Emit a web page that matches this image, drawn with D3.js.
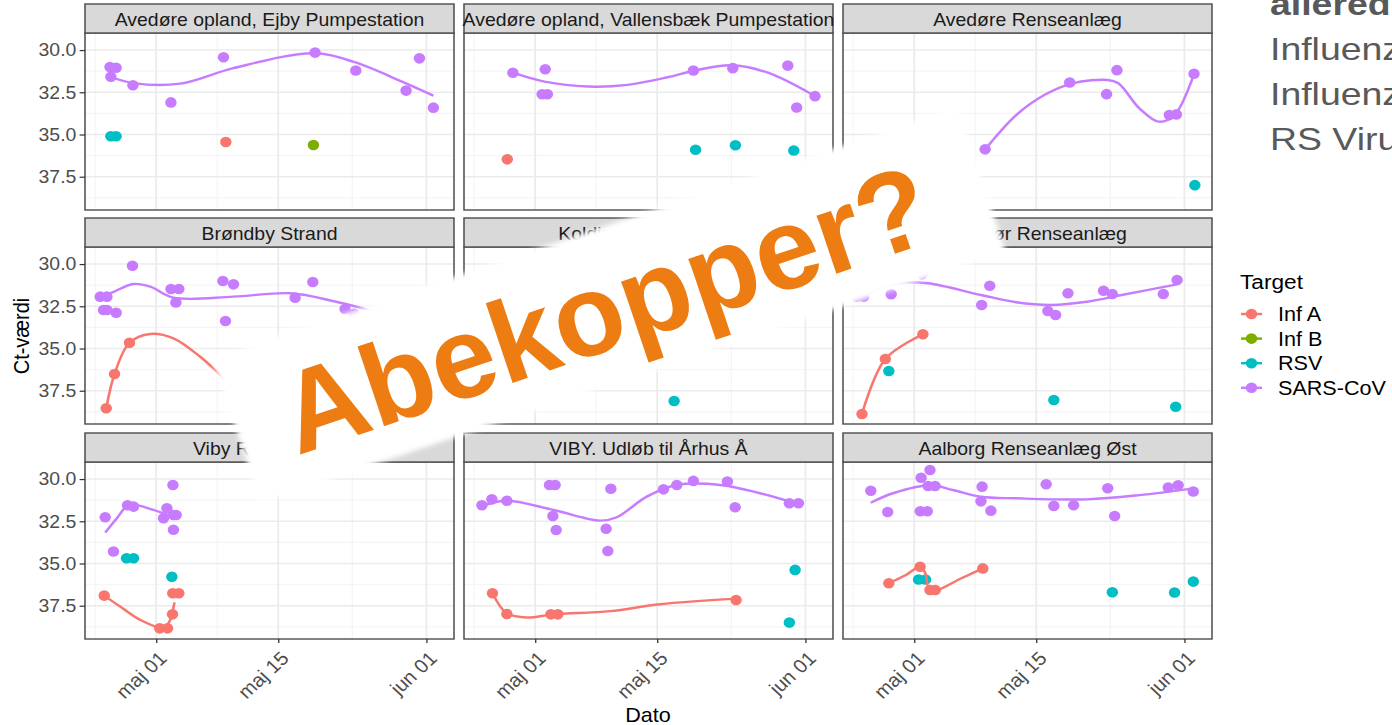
<!DOCTYPE html>
<html>
<head>
<meta charset="utf-8">
<script src="https://cdn.jsdelivr.net/npm/d3@7"></script>
<style>
  body { margin: 0; background: #fff; }
  svg { display: block; font-family: "Liberation Sans", Arial, sans-serif; }
</style>
</head>
<body>
<svg id="chart" width="1392" height="725"></svg>
<script>
// ---- data ----
const targets = ["Inf A", "Inf B", "RSV", "SARS-CoV"];
const targetColors = ["#F8766D", "#7CAE00", "#00BFC4", "#C77CFF"];

const facets = [
  "Avedøre opland, Ejby Pumpestation",
  "Avedøre opland, Vallensbæk Pumpestation",
  "Avedøre Renseanlæg",
  "Brøndby Strand",
  "Kolding Renseanlæg",
  "Helsingør Renseanlæg",
  "Viby Renseanlæg",
  "VIBY. Udløb til Århus Å",
  "Aalborg Renseanlæg Øst",
];

const yTicks = [30, 32.5, 35, 37.5];
const yMinor = [31.25, 33.75, 36.25, 38.75];
const yDomain = [28.99, 39.47];
const xTicks = ["2022-05-01", "2022-05-15", "2022-06-01"];
const xTickLabels = ["maj 01", "maj 15", "jun 01"];
const xMinor = ["2022-04-24", "2022-05-08", "2022-05-23T12:00"];
const xDomain = ["2022-04-22T20:00", "2022-06-04T04:00"];

// points: [days after 1 May 2022, target, Ct]
const ejbyPoints = [
  [-5.2, "SARS-CoV", 31.58], [-5.3, "SARS-CoV", 31.0], [-4.6, "SARS-CoV", 31.05],
  [-2.67, "SARS-CoV", 32.08], [1.69, "SARS-CoV", 33.1], [7.72, "SARS-CoV", 30.43],
  [18.23, "SARS-CoV", 30.15], [22.9, "SARS-CoV", 31.21], [28.67, "SARS-CoV", 32.4],
  [30.2, "SARS-CoV", 30.49], [31.8, "SARS-CoV", 33.41],
  [-5.2, "RSV", 35.1], [-4.6, "RSV", 35.1],
  [7.99, "Inf A", 35.44],
  [18.04, "Inf B", 35.62],
];
const ejbyLines = [
  ["SARS-CoV", [[-5.28, 31.58], [-2.6, 31.96], [2.75, 31.99], [8.86, 31.07], [18.04, 30.19], [22.6, 30.69], [28.0, 31.82], [31.8, 32.7]]],
];

const vallensbaekPoints = [
  [-2.56, "SARS-CoV", 31.34], [1.15, "SARS-CoV", 31.14], [0.8, "SARS-CoV", 32.62],
  [1.4, "SARS-CoV", 32.62], [18.15, "SARS-CoV", 31.21], [22.67, "SARS-CoV", 31.07],
  [28.98, "SARS-CoV", 30.92], [32.1, "SARS-CoV", 32.73], [30.0, "SARS-CoV", 33.4],
  [18.4, "RSV", 35.9], [22.97, "RSV", 35.64], [29.67, "RSV", 35.95],
  [-3.2, "Inf A", 36.47],
];
const vallensbaekLines = [
  ["SARS-CoV", [[-2.56, 31.34], [1.07, 31.87], [6.04, 32.16], [10.6, 32.06], [15.2, 31.61], [18.3, 31.21], [22.5, 30.9], [26.7, 31.34], [32.1, 32.73]]],
];

const avedoerePoints = [
  [8.14, "SARS-CoV", 35.88], [17.84, "SARS-CoV", 31.92], [23.26, "SARS-CoV", 31.19],
  [22.07, "SARS-CoV", 32.61], [29.27, "SARS-CoV", 33.85], [30.08, "SARS-CoV", 33.81],
  [32.1, "SARS-CoV", 31.4],
  [32.2, "RSV", 38.0],
];
const avedoereLines = [
  ["SARS-CoV", [[8.14, 35.88], [11.7, 33.85], [14.93, 32.66], [18.16, 31.97], [22.2, 31.77], [23.42, 31.97], [25.84, 33.45], [28.06, 34.24], [29.87, 33.85], [32.1, 31.43]]],
];

const broendbyPoints = [
  [-6.42, "SARS-CoV", 31.93], [-5.65, "SARS-CoV", 31.93], [-6.04, "SARS-CoV", 32.72],
  [-5.65, "SARS-CoV", 32.72], [-4.59, "SARS-CoV", 32.88], [-2.72, "SARS-CoV", 30.1],
  [1.7, "SARS-CoV", 31.48], [2.6, "SARS-CoV", 31.48], [2.26, "SARS-CoV", 32.27],
  [7.65, "SARS-CoV", 31.0], [8.87, "SARS-CoV", 31.2], [7.95, "SARS-CoV", 33.37],
  [15.94, "SARS-CoV", 31.99], [17.97, "SARS-CoV", 31.06], [21.67, "SARS-CoV", 32.66],
  [22.7, "SARS-CoV", 32.95],
  [-5.73, "Inf A", 38.54], [-4.78, "Inf A", 36.51], [-3.06, "Inf A", 34.66],
];
const broendbyLines = [
  ["Inf A", [[-5.73, 38.54], [-4.78, 36.51], [-3.06, 34.66], [-0.69, 34.14], [1.98, 34.4], [5.05, 35.49], [6.96, 36.37], [9.0, 37.4]]],
  ["SARS-CoV", [[-6.42, 31.93], [-5.28, 31.73], [-2.6, 31.18], [-0.69, 31.34], [1.98, 31.99], [8.87, 31.93], [15.4, 31.73], [20.4, 32.2], [24.8, 32.78], [27.0, 33.1]]],
];

const koldingPoints = [
  [15.94, "RSV", 38.11],
  [-5.5, "Inf A", 39.1],
];
const koldingLines = [];

const helsingoerPoints = [
  [-6.6, "SARS-CoV", 31.93], [-5.8, "SARS-CoV", 31.93], [-2.64, "SARS-CoV", 31.79],
  [0.88, "SARS-CoV", 30.61], [8.67, "SARS-CoV", 31.28], [7.74, "SARS-CoV", 32.42],
  [15.33, "SARS-CoV", 32.78], [16.23, "SARS-CoV", 33.02], [17.64, "SARS-CoV", 31.73],
  [21.72, "SARS-CoV", 31.58], [22.73, "SARS-CoV", 31.77], [28.58, "SARS-CoV", 31.77],
  [30.16, "SARS-CoV", 30.94],
  [-5.99, "Inf A", 38.88], [-3.31, "Inf A", 35.62], [1.0, "Inf A", 34.16],
  [-2.91, "RSV", 36.33], [16.02, "RSV", 38.05], [30.0, "RSV", 38.45],
];
const helsingoerLines = [
  ["Inf A", [[-5.99, 38.88], [-3.31, 35.62], [1.0, 34.16]]],
  ["SARS-CoV", [[-6.6, 32.13], [-4.45, 31.54], [-1.22, 31.1], [1.6, 31.14], [7.66, 31.83], [11.7, 32.26], [15.75, 32.42], [19.8, 32.23], [23.8, 31.83], [30.16, 31.2]]],
];

const vibyPoints = [
  [-5.85, "SARS-CoV", 32.26], [-4.9, "SARS-CoV", 34.29], [-3.29, "SARS-CoV", 31.55],
  [-2.6, "SARS-CoV", 31.63], [1.23, "SARS-CoV", 31.73], [0.84, "SARS-CoV", 32.32],
  [1.98, "SARS-CoV", 32.13], [2.29, "SARS-CoV", 32.13], [1.92, "SARS-CoV", 30.35],
  [1.98, "SARS-CoV", 33.0],
  [-3.4, "RSV", 34.69], [-2.6, "RSV", 34.69], [1.8, "RSV", 35.78],
  [-5.96, "Inf A", 36.9], [0.4, "Inf A", 38.84], [1.3, "Inf A", 38.84],
  [1.87, "Inf A", 38.01], [1.9, "Inf A", 36.76], [2.6, "Inf A", 36.76],
];
const vibyLines = [
  ["Inf A", [[-5.96, 36.9], [-4.13, 37.55], [-1.83, 38.34], [0.65, 38.8], [1.41, 38.54], [2.1, 37.3]]],
  ["SARS-CoV", [[-5.85, 33.17], [-4.51, 32.32], [-3.18, 31.53], [-1.83, 31.59], [-0.31, 31.83], [1.8, 32.18], [2.5, 32.2]]],
];

const udloebPoints = [
  [-6.11, "SARS-CoV", 31.55], [-4.97, "SARS-CoV", 31.2], [-3.25, "SARS-CoV", 31.28],
  [1.64, "SARS-CoV", 30.35], [2.29, "SARS-CoV", 30.35], [2.03, "SARS-CoV", 32.19],
  [2.41, "SARS-CoV", 33.02], [8.68, "SARS-CoV", 30.57], [8.14, "SARS-CoV", 32.94],
  [8.33, "SARS-CoV", 34.26], [14.72, "SARS-CoV", 30.61], [16.25, "SARS-CoV", 30.35],
  [18.15, "SARS-CoV", 30.11], [22.05, "SARS-CoV", 30.15], [22.94, "SARS-CoV", 31.67],
  [29.16, "SARS-CoV", 31.43], [30.2, "SARS-CoV", 31.43],
  [-4.9, "Inf A", 36.76], [-3.25, "Inf A", 37.99], [1.8, "Inf A", 38.01],
  [2.6, "Inf A", 38.01], [23.05, "Inf A", 37.16],
  [29.82, "RSV", 35.38], [29.16, "RSV", 38.5],
];
const udloebLines = [
  ["Inf A", [[-4.9, 36.76], [-3.25, 37.95], [-0.95, 38.2], [2.1, 38.01], [8.6, 37.82], [14.33, 37.41], [23.05, 37.08]]],
  ["SARS-CoV", [[-6.11, 31.59], [-3.25, 31.28], [2.1, 31.83], [7.45, 32.46], [9.37, 32.26], [12.8, 31.04], [16.25, 30.35], [21.2, 30.35], [25.8, 30.84], [30.2, 31.48]]],
];

const aalborgPoints = [
  [-4.98, "SARS-CoV", 30.69], [-3.04, "SARS-CoV", 31.95], [0.8, "SARS-CoV", 29.92],
  [1.81, "SARS-CoV", 29.46], [1.6, "SARS-CoV", 30.41], [2.4, "SARS-CoV", 30.41],
  [0.7, "SARS-CoV", 31.91], [1.5, "SARS-CoV", 31.91], [7.79, "SARS-CoV", 30.45],
  [7.66, "SARS-CoV", 31.32], [8.8, "SARS-CoV", 31.87], [15.14, "SARS-CoV", 30.31],
  [16.02, "SARS-CoV", 31.59], [18.29, "SARS-CoV", 31.55], [22.2, "SARS-CoV", 30.54],
  [23.0, "SARS-CoV", 32.19], [29.15, "SARS-CoV", 30.5], [30.28, "SARS-CoV", 30.37],
  [32.02, "SARS-CoV", 30.74],
  [-2.91, "Inf A", 36.17], [0.68, "Inf A", 35.19], [1.81, "Inf A", 36.57],
  [2.42, "Inf A", 36.57], [7.87, "Inf A", 35.29],
  [0.5, "RSV", 35.95], [1.3, "RSV", 35.95], [22.73, "RSV", 36.7],
  [29.87, "RSV", 36.72], [32.02, "RSV", 36.07],
];
const aalborgLines = [
  ["Inf A", [[-2.91, 36.17], [-1.0, 35.7], [0.68, 35.19], [1.3, 35.6], [1.7, 36.5], [2.42, 36.61], [5.3, 35.9], [7.87, 35.29]]],
  ["SARS-CoV", [[-4.98, 31.4], [-2.43, 30.84], [1.81, 30.37], [4.44, 30.65], [7.66, 31.05], [11.7, 31.14], [19.78, 31.2], [25.84, 30.95], [32.02, 30.55]]],
];

const slideLines = ["allerede", "Influenza A", "Influenza B", "RS Virus"];
const overlayText = "Abekopper?";

// ---- layout ----
const SX = 1.08; // the source image is stretched horizontally
const SLIDE_SX = 1.17;
const colLeft = [85, 464, 843].map((v) => v / SX);
const panelW = 369 / SX;
const panelTop = [33, 247, 462];
const panelH = 177;
const stripH = 29;
const FONT = "'Liberation Sans', Arial, sans-serif";

const facetData = [
  [ejbyPoints, ejbyLines], [vallensbaekPoints, vallensbaekLines], [avedoerePoints, avedoereLines],
  [broendbyPoints, broendbyLines], [koldingPoints, koldingLines], [helsingoerPoints, helsingoerLines],
  [vibyPoints, vibyLines], [udloebPoints, udloebLines], [aalborgPoints, aalborgLines],
].map(([points, lines], i) => ({ name: facets[i], points, lines }));

const may1 = Date.UTC(2022, 4, 1);
const toDate = (day) => new Date(may1 + day * 864e5);
const parse = (s) => new Date(s + (s.length > 10 ? ":00Z" : "T00:00:00Z"));

const color = d3.scaleOrdinal(targets, targetColors);
const xDom = xDomain.map(parse);

const svg = d3.select("#chart");
svg.append("rect").attr("width", 1392).attr("height", 725).attr("fill", "#fff");

const chart = svg.append("g").attr("transform", `scale(${SX},1)`);

const line = (xs, ys) =>
  d3.line()
    .x((d) => xs(toDate(d[0])))
    .y((d) => ys(d[1]))
    .curve(d3.curveCatmullRom.alpha(0.5));

facetData.forEach((f, i) => {
  const col = i % 3;
  const row = Math.floor(i / 3);
  const xs = d3.scaleUtc().domain(xDom).range([colLeft[col], colLeft[col] + panelW]);
  const ys = d3.scaleLinear().domain(yDomain).range([panelTop[row], panelTop[row] + panelH]);
  const g = chart.append("g");
  const [x0, x1] = xs.range();
  const [y0, y1] = ys.range();

  g.append("rect").attr("x", x0).attr("y", y0).attr("width", x1 - x0).attr("height", y1 - y0).attr("fill", "#fff");

  g.append("g").selectAll("line").data(xMinor.map(parse)).join("line")
    .attr("x1", (d) => xs(d)).attr("x2", (d) => xs(d)).attr("y1", y0).attr("y2", y1)
    .attr("stroke", "#f2f2f2").attr("stroke-width", 0.9);
  g.append("g").selectAll("line").data(yMinor).join("line")
    .attr("x1", x0).attr("x2", x1).attr("y1", (d) => ys(d)).attr("y2", (d) => ys(d))
    .attr("stroke", "#f2f2f2").attr("stroke-width", 0.9);
  g.append("g").selectAll("line").data(xTicks.map(parse)).join("line")
    .attr("x1", (d) => xs(d)).attr("x2", (d) => xs(d)).attr("y1", y0).attr("y2", y1)
    .attr("stroke", "#ebebeb").attr("stroke-width", 1.6);
  g.append("g").selectAll("line").data(yTicks).join("line")
    .attr("x1", x0).attr("x2", x1).attr("y1", (d) => ys(d)).attr("y2", (d) => ys(d))
    .attr("stroke", "#ebebeb").attr("stroke-width", 1.6);

  g.append("g").selectAll("circle").data(f.points).join("circle")
    .attr("cx", (d) => xs(toDate(d[0])))
    .attr("cy", (d) => ys(d[2]))
    .attr("r", 5.3)
    .attr("fill", (d) => color(d[1]));

  g.append("g").selectAll("path").data(f.lines).join("path")
    .attr("fill", "none")
    .attr("stroke", (d) => color(d[0]))
    .attr("stroke-width", 2.4)
    .attr("d", (d) => line(xs, ys)(d[1]));

  g.append("rect").attr("x", x0).attr("y", y0).attr("width", x1 - x0).attr("height", y1 - y0)
    .attr("fill", "none").attr("stroke", "#4d4d4d").attr("stroke-width", 1.4);

  g.append("rect").attr("x", x0).attr("y", y0 - stripH).attr("width", x1 - x0).attr("height", stripH)
    .attr("fill", "#d9d9d9").attr("stroke", "#4d4d4d").attr("stroke-width", 1.4);
  g.append("text").attr("x", (x0 + x1) / 2).attr("y", y0 - 7)
    .attr("text-anchor", "middle").attr("font-size", 18).attr("fill", "#1a1a1a")
    .text(f.name);

  if (col === 0) {
    chart.append("g").attr("transform", `translate(${x0},0)`)
      .call(d3.axisLeft(ys).tickValues(yTicks).tickFormat(d3.format(".1f")).tickSize(5).tickPadding(3))
      .call((a) => a.select(".domain").remove())
      .call((a) => a.selectAll(".tick line").attr("stroke", "#333").attr("stroke-width", 1.2))
      .call((a) => a.selectAll("text").attr("font-size", 18).attr("fill", "#4d4d4d").attr("font-family", FONT));
  }
  if (row === 2) {
    chart.append("g").attr("transform", `translate(0,${y1})`)
      .call(d3.axisBottom(xs).tickValues(xTicks.map(parse)).tickFormat((d, k) => xTickLabels[k]).tickSize(4))
      .call((a) => a.select(".domain").remove())
      .call((a) => a.selectAll(".tick line").attr("stroke", "#333").attr("stroke-width", 1.2))
      .call((a) => a.selectAll("text")
        .attr("y", 0).attr("dy", 0)
        .attr("text-anchor", "end")
        .attr("transform", "translate(10.5,20.5) rotate(-45)")
        .attr("font-size", 19).attr("fill", "#4d4d4d")
        .attr("font-family", FONT));
  }
});

// axis titles
chart.append("text").attr("x", 648 / SX).attr("y", 722).attr("text-anchor", "middle")
  .attr("font-size", 20).attr("fill", "#000").text("Dato");
chart.append("text").attr("transform", `translate(${29 / SX},336) rotate(-90)`).attr("text-anchor", "middle")
  .attr("font-size", 20).attr("fill", "#000").text("Ct-værdi");

// legend
const legend = chart.append("g").attr("transform", `translate(${1240 / SX},0)`);
legend.append("text").attr("x", 0).attr("y", 289).attr("font-size", 21).attr("fill", "#000").text("Target");
const item = legend.selectAll("g.item").data(targets).join("g")
  .attr("class", "item")
  .attr("transform", (d, k) => `translate(0,${314 + k * 24.6})`);
item.append("line").attr("x1", 1 / SX).attr("x2", 22 / SX).attr("stroke", (d) => color(d)).attr("stroke-width", 2.4);
item.append("circle").attr("cx", 11.5 / SX).attr("r", 5.3).attr("fill", (d) => color(d));
item.append("text").attr("x", 38 / SX).attr("y", 7).attr("font-size", 20).attr("fill", "#000").text((d) => d);

// slide text behind the chart, top right (cut by the picture edge as in the source)
svg.append("g").attr("transform", `scale(${SLIDE_SX},1)`)
  .selectAll("text").data(slideLines).join("text")
  .attr("x", 1270 / SLIDE_SX)
  .attr("y", (d, k) => 15 + k * 45)
  .attr("font-size", 32)
  .attr("font-weight", (d, k) => (k === 0 ? "bold" : "normal"))
  .attr("fill", "#595959")
  .text((d) => d);

// overlay label
const defs = svg.append("defs");
defs.append("filter").attr("id", "soft").attr("x", "-10%").attr("y", "-30%").attr("width", "120%").attr("height", "160%")
  .append("feGaussianBlur").attr("stdDeviation", 2.5);
const overlay = svg.append("g").attr("transform", "translate(609,305) rotate(-18.64)");
overlay.append("rect").attr("x", -393).attr("y", -76).attr("width", 786).attr("height", 152)
  .attr("fill", "#fff").attr("filter", "url(#soft)");
overlay.append("text").attr("x", -5).attr("y", 43).attr("text-anchor", "middle")
  .attr("font-size", 116).attr("font-weight", "bold").attr("fill", "#ED7D12")
  .text(overlayText);
</script>
</body>
</html>
